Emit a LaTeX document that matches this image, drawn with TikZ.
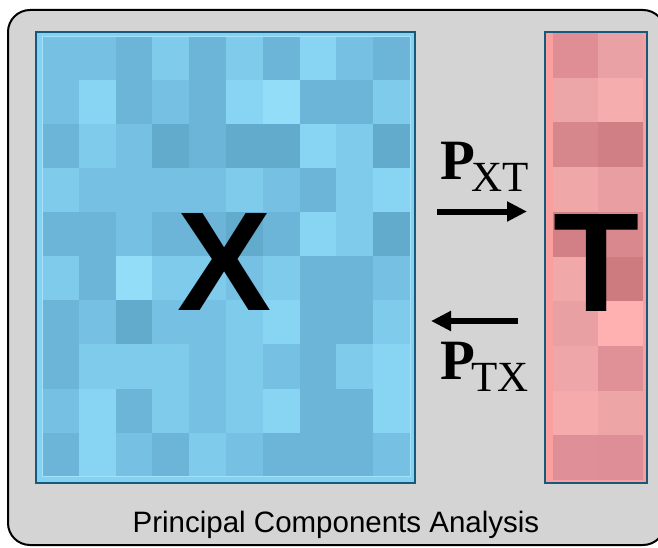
\documentclass[tikz,border=0pt]{standalone}
\usepackage{fontspec}
\setmainfont{Liberation Serif}
\newfontfamily\sansf{Liberation Sans}
\usetikzlibrary{arrows.meta}
\definecolor{boxgray}{HTML}{D4D4D4}
\definecolor{frameblue}{HTML}{17597A}
\definecolor{cyanfill}{HTML}{82D3F3}
\definecolor{redfill}{HTML}{FB9E9E}
\definecolor{bA}{HTML}{6CB5D9}
\definecolor{bB}{HTML}{76C0E4}
\definecolor{bC}{HTML}{7ECBEB}
\definecolor{bD}{HTML}{63ABCC}
\definecolor{bE}{HTML}{88D5F3}
\definecolor{bF}{HTML}{93DDF9}
\tikzset{
  bigletter/.style={inner sep=0pt, anchor=base, font=\sansf\bfseries\fontsize{141}{141}\selectfont},
  pmain/.style={inner sep=0pt, anchor=base west, font=\bfseries\fontsize{57}{57}\selectfont},
  psub/.style={inner sep=0pt, anchor=base west, font=\fontsize{43}{43}\selectfont},
  thickarrow/.style={line width=6pt, -{Triangle[length=20pt,width=19pt]}},
  framebox/.style={draw=frameblue, line width=2pt}
}
\begin{document}
\begin{tikzpicture}[x=1pt,y=-1pt]
\useasboundingbox (0,0) rectangle (658,548);
% outer panel
\draw[line width=2pt, fill=boxgray, rounded corners=22pt] (8,10) rectangle (665,545);
% X matrix
\draw[framebox, fill=cyanfill] (36,32) rectangle (415,483);
\foreach \row [count=\r from 0] in {
  {B,B,A,C,A,C,A,E,B,A},
  {B,E,A,B,A,E,F,A,A,C},
  {A,C,B,D,A,D,D,E,C,D},
  {C,B,B,B,B,C,B,A,C,E},
  {A,A,B,A,A,D,A,E,C,D},
  {C,A,F,C,C,B,C,A,A,B},
  {A,B,D,B,B,C,E,A,A,C},
  {A,C,C,C,B,C,B,A,C,E},
  {B,E,A,C,B,C,E,A,A,E},
  {A,E,B,A,C,B,A,A,A,B}}{
  \foreach \c [count=\k from 0] in \row {
    \fill[b\c] ({42+\k*36.8},{36+\r*44.07}) rectangle ++(36.8,44.07);
  }
}
\draw[cyanfill!70!white, line width=0.6pt] (42,36) rectangle (410,476.7);
% T matrix
\draw[framebox, fill=redfill] (545,32) rectangle (647,483);
\foreach \ca/\cb [count=\r from 0] in {DF8E96/EAA1A5, ECA6A7/F6ADAD, D5878B/D07F84, EFA7A8/E99EA2, D28085/D9898E, F0A8A9/CD7B7F, E8A0A3/FFB0B0, EFA6A8/E09198, F5AAAB/EEA5A6, DF8F97/DE8E96}{
  \definecolor{cella}{HTML}{\ca}
  \definecolor{cellb}{HTML}{\cb}
  \fill[cella] (553,{33+\r*44.7}) rectangle ++(45,44.7);
  \fill[cellb] (598,{33+\r*44.7}) rectangle ++(45,44.7);
}
% big letters
\node[bigletter] (X) at (225,310) {X};
\node[bigletter] (T) at (596.5,311) {T};
% projection labels
\node[pmain] (pxt) at (440,180) {P};
\node[psub] (pxtsub) at (471,192) {XT};
\node[pmain] (ptx) at (440,379) {P};
\node[psub] (ptxsub) at (471,391) {TX};
% arrows
\coordinate (r1) at (437,211.5);
\coordinate (r2) at (527,211.5);
\coordinate (l1) at (518,321);
\coordinate (l2) at (431,321);
\draw[thickarrow] (r1) -- (r2);
\draw[thickarrow] (l1) -- (l2);
% caption
\node[inner sep=0pt, anchor=base, font=\sansf\fontsize{29.5}{29.5}\selectfont] (cap) at (336,532) {Principal Components Analysis};
\end{tikzpicture}
\end{document}
